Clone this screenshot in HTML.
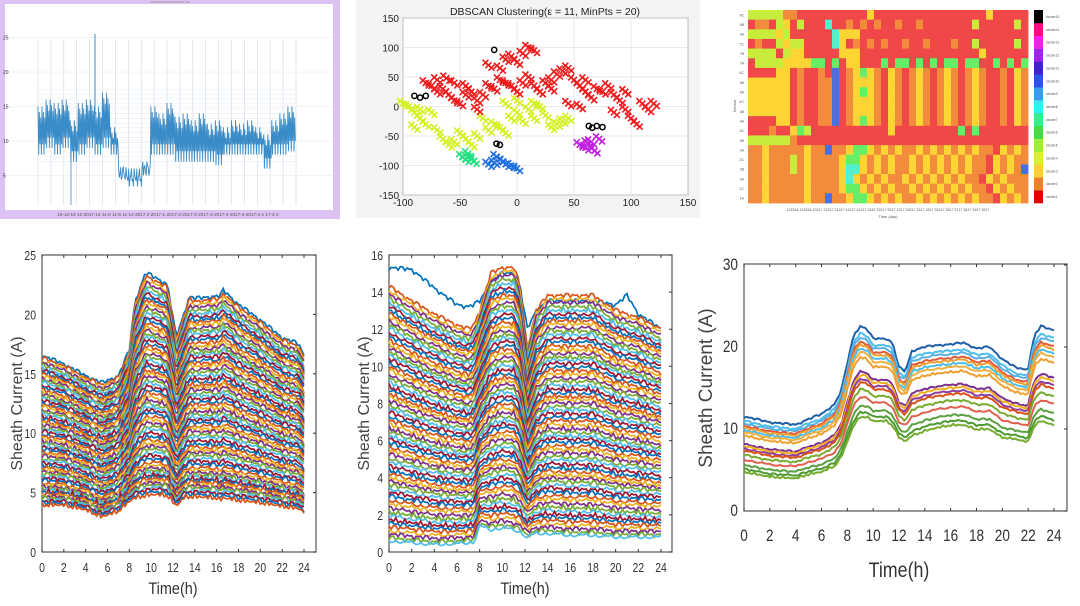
<!DOCTYPE html>
<html><head><meta charset="utf-8">
<style>
html,body{margin:0;padding:0;background:#fff;}
body{width:1080px;height:606px;overflow:hidden;font-family:"Liberation Sans",sans-serif;}
svg{position:absolute;left:0;top:0;}
</style></head>
<body>
<svg id="s" width="1080" height="606" viewBox="0 0 1080 606"></svg>
<script>
// ---------- DATA ----------
const palette=["#0072BD","#D95319","#EDB120","#7E2F8E","#77AC30","#4DBEEE","#A2142F"];
// Panel 1 (top-left): daily highs/lows of a multi-week series
const dayHigh=[15,16,15.5,16,13,15.5,16,15,17,12,6,5,5,7,15,14,15.5,13.5,14,13,14,12.5,13,12,13,12.5,13,12,11,13,14,15];
const dayLow=[8,9,8,9,7,8,9,8,9,8,4.7,4.5,4.5,5,8,8,8,7,7,7,7,7,6.5,8,8,8,8,8,6,8,8,8.5];
// Panel 2 (DBSCAN scatter)
const redPts=[[-75,35],[-70,45],[-65,30],[-60,20],[-55,10],[-50,5],[-62,48],[-55,40],[-45,35],[-40,25],[-35,10],[-30,20],[-25,35],[-20,30],[-15,45],[-10,40],[-5,35],[0,25],[5,40],[10,50],[15,35],[20,25],[25,40],[30,30],[35,55],[40,60],[45,65],[50,45],[55,35],[60,25],[65,15],[70,30],[75,25],[80,35],[85,20],[90,10],[95,-5],[100,-20],[105,-30],[110,5],[115,-5],[120,5],[-25,70],[-15,65],[-10,80],[-5,85],[0,75],[5,90],[10,100],[15,95],[45,5],[55,0],[85,-10],[-45,20],[-35,-5],[-70,25],[-80,40],[30,45],[60,45],[95,25]];
const yellowPts=[[-100,5],[-95,0],[-90,-10],[-85,-20],[-80,-30],[-90,-35],[-75,-10],[-70,-40],[-65,-55],[-55,-60],[-50,-45],[-45,-55],[-40,-65],[-35,-50],[-25,-40],[-20,-30],[-15,-35],[-10,-45],[-5,-20],[0,-10],[5,-25],[10,-5],[15,-20],[20,0],[25,-15],[30,-35],[35,-30],[40,-25],[45,-20],[-10,5],[0,10],[15,5],[-30,-20],[-60,-65],[-85,-5]];
const greenPts=[[-48,-85],[-45,-90],[-40,-88],[-43,-80],[-38,-93]];
const bluePts=[[-20,-95],[-15,-90],[-10,-98],[-5,-100],[0,-105],[-18,-85],[-25,-98],[-12,-93]];
const magentaPts=[[55,-65],[60,-70],[65,-60],[68,-75],[72,-55],[62,-62]];
const noisePts=[[-20,96],[-90,18],[-85,15],[-80,18],[-18,-63],[-15,-65],[63,-33],[66,-36],[70,-33],[75,-35]];
const scXTicks=[-100,-50,0,50,100,150];
const scYTicks=[150,100,50,0,-50,-100,-150];
// Panel 3 (heatmap): color codes per row, one char per column
const heatRows=[
"gggggoorrrrrrrrrryrrrrrrrrrrrrrrrryrrrrrr",
"roorgyrgrrrcrrorororrorrorrrrrrrgrrrrrgrr",
"ggggygrrrrrrcyyyrrrrrrrrrrrrrrrrrrrrrrrr",
"rorrgyggrrrrcyrorororrorrorrrorrgrrrrrgrr",
"ggggrgyyrrrrryyyrrrrrrrrrrrrrrrrryrrrrrrr",
"rggggyyyyGGrGryyrrrGrGGrGrGrGGrGGrrGrGrGr",
"rrrryyrorrorbroyGyoryoroyoroyoroyorroryob",
"yyyyyyrorroobroyyyoryoroyoroyoroyorroryoo",
"yyyyyyrorroobroyGyoryoroyoroyoroyorroryoo",
"yyyyyyrorroobroyyyoryoroyoroyoroyorroryob",
"yyyyyyrorroobroyyyoryoroyoroyoroyorroryob",
"rrrryyrorroobroyGyoryoroyoroyoroyorroryob",
"rrrorryGgrrrrrrrrrrryrrrrrrrrrGrGrrrrrrr",
"ggggggorrrrrrrrrrrrrrrrrrrrrrrrrrrrrrrrr",
"ooyoooooyoobooyGGyoyoyooyoyoyoyoyooryoyo",
"ooyooogoyooooyGGyoyoyooyoyoyoyoyooryoyoo",
"ooyooogoyooooyccyoyoyooyoyoyoyoyooryoyob",
"ooyoooooyooooycyoyoyooyoyoyoyoyooryoyooo",
"ooyoooooyooooyGGyoyoyooyoyoyoyoyooryoyoo",
"ooyoooooyoobooyGGyoyoyooyoyoyoyoyooryoyo"];
const heatRowLabels=["9C","9B","9A","7C","7B","7A","6C","5B","5A","4C","4B","4A","3C","3B","2A","2C","2B","2A","1C","1A"];
const heatColors={r:"#f04848",o:"#f28c3c",y:"#fcd434",g:"#c8ec3c",G:"#66ee66",c:"#50f0d0",b:"#4870e0"};
const cbarColors=["#e00000","#f08020","#fcd030","#d8f030","#a0f030","#40e040","#30f090","#30f0f0","#30a0f0","#3050f0","#4020d0","#a020f0","#f020f0","#f01080","#000000"];
// Panel 4 (sheath current, many cables)
const hA=[0,2,4,5.5,7,8,8.5,9.5,10.5,11.5,12.3,13,13.5,14,16,16.3,16.6,18,20,22,23.5,24];
const topA=[16.5,15.8,14.8,14.2,14.8,17,21,23.5,23,22.5,18,20,21.5,21.3,21.5,21.5,22,20.8,19.5,18,17.5,16.5];
const botA=[4,4,3.6,3,3.5,4.3,4.6,4.8,4.9,4.8,3.9,4.6,4.7,4.7,4.6,4.4,4.6,4.4,4.2,3.9,3.7,3.4];
const fracA=[1,0.985,0.97,0.955,0.94,0.925,0.91,0.895,0.88,0.865,0.85,0.835,0.82,0.805,0.79,0.775,0.76,0.745,0.73,0.715,0.7,0.685,0.67,0.655,0.64,0.625,0.61,0.595,0.58,0.565,0.55,0.535,0.52,0.505,0.49,0.475,0.46,0.445,0.43,0.415,0.4,0.385,0.37,0.355,0.34,0.325,0.31,0.295,0.28,0.265,0.25,0.235,0.22,0.205,0.19,0.175,0.16,0.145,0.13,0.12,0.11,0.1,0.09,0.08,0.07,0.06,0.05,0.04,0.03,0.02,0.01,0];
// Panel 5 (sheath current, second set)
const hB=[0,2,4,6,7,7.5,8,9,10,11,11.5,12.2,13,14,16,18,20,21,22,24];
const topB=[14.3,13.5,12.8,12.2,12,12.2,13,15,15.3,15.3,14.5,11,13,13.8,13.8,13.8,13,12.8,12.6,12];
const botB=[0.6,0.5,0.4,0.45,0.5,0.5,1.4,1.2,1.3,1.2,1.1,0.8,1,1,0.9,0.9,0.8,0.8,0.8,0.8];
const outB=[15.3,15.2,14.2,13.3,13.2,13.3,13.5,14.5,15,15,14.5,12,13,13.5,13.5,13.5,13.3,13.8,12.8,12];
const fracB=[1,0.985,0.97,0.955,0.94,0.925,0.91,0.895,0.88,0.865,0.85,0.835,0.82,0.805,0.79,0.775,0.76,0.745,0.73,0.715,0.7,0.685,0.67,0.655,0.64,0.625,0.61,0.595,0.58,0.565,0.55,0.535,0.52,0.505,0.49,0.475,0.46,0.445,0.43,0.415,0.4,0.385,0.37,0.355,0.34,0.325,0.31,0.295,0.28,0.265,0.25,0.235,0.22,0.205,0.19,0.175,0.16,0.145,0.13,0.115,0.1,0.085,0.07,0.055,0.04,0.025,0.01,0];
// Panel 6 (representative curves)
const hC=[0,2,4,5,6,7,7.5,8,8.5,9,9.5,10,11,11.5,12,12.5,13,14,15,16,17,18,19,20,21,21.8,22,22.5,23,24];
const topC=[11.5,10.8,10.5,11.2,11.8,13,14.5,18,21.5,22.5,22.2,21,21,20.5,17.5,17,19.5,20,20.2,20.3,20.5,19.8,20,18.5,17.5,17.2,17.5,21.5,22.5,22];
const botC=[4.8,4.2,4,4.5,4.8,5.5,6.5,8.5,10.5,11.5,11.5,11,11,10.5,9,8.5,9.2,9.8,10.2,10.5,10.5,10,10,9,8.8,8.5,8.5,10.5,11,10.5];
const fracC=[1,0.92,0.88,0.83,0.8,0.76,0.72,0.66,0.5,0.46,0.42,0.38,0.3,0.22,0.12,0.05,0];
const colC=["#1f5fa8","#4dbeee","#5ab0e0","#e05a3a","#f0a030","#4dbeee","#f0b040","#f0a030","#7e2f8e","#f0b020","#8e3fa0","#d95319","#77ac30","#e06050","#5aa040","#4d9a30","#77ac30"];
const hTicks=[0,2,4,6,8,10,12,14,16,18,20,22,24];
const ticksA=[0,5,10,15,20,25];
const ticksB=[0,2,4,6,8,10,12,14,16];
const ticksC=[0,10,20,30];

// ---------- HELPERS ----------
const S=document.getElementById('s');
const NS="http://www.w3.org/2000/svg";
function mk(tag,attrs,parent){const e=document.createElementNS(NS,tag);for(const k in attrs)e.setAttribute(k,attrs[k]);(parent||S).appendChild(e);return e;}
function txt(str,x,y,size,anchor,parent,extra){const t=mk('text',Object.assign({x:x,y:y,'font-size':size,'text-anchor':anchor||'middle',fill:'#333'},extra||{}),parent);t.textContent=str;return t;}
function interp(hs,vs,h){for(let i=0;i<hs.length-1;i++){if(h>=hs[i]&&h<=hs[i+1]){const t=(h-hs[i])/(hs[i+1]-hs[i]);return vs[i]+t*(vs[i+1]-vs[i]);}}return vs[vs.length-1];}

// ---------- PANEL 1 ----------
(function(){
 const g=mk('g',{});
 
 
 const bg=mk('rect',{x:0,y:0,width:340,height:219,fill:'#dcc2f2'},g);
 
 
 mk('rect',{x:5,y:4,width:328,height:206,fill:'#fff'},g);
 const X0=38,X1=296;
 const yS=v=>210-v*6.9;
 for(let i=0;i<=20;i++){mk('line',{x1:X0+i*(X1-X0)/20,y1:40,x2:X0+i*(X1-X0)/20,y2:205,stroke:'#cfd8e8','stroke-width':0.6},g);}
 for(let v=7;v<=18;v+=0.7){mk('line',{x1:X0,y1:yS(v),x2:X1,y2:yS(v),stroke:'#dbe3ee','stroke-width':0.4},g);}
 [5,10,15,20,25].forEach(v=>{mk('line',{x1:5,y1:yS(v),x2:333,y2:yS(v),stroke:'#e8e8e8','stroke-width':0.5},g);txt(String(v),3,yS(v)+2,5,'start',g);});
 const n=dayHigh.length,w=(X1-X0)/n;
 let d='';
 for(let i=0;i<n;i++){
  const x=X0+i*w;
  for(let k=0;k<6;k++){
   const hi=dayHigh[i]-(k%3)*0.8, lo=dayLow[i]+(k%2)*1.5;
   d+=(i==0&&k==0?'M':'L')+(x+k*w/6).toFixed(1)+','+yS(hi).toFixed(1)+'L'+(x+k*w/6+w/12).toFixed(1)+','+yS(lo).toFixed(1);
  }
 }
 const p=mk('path',{d:d,fill:'none',stroke:'#3a8cc8','stroke-width':0.9},g);
 
 
 mk('line',{x1:95,y1:yS(25.5),x2:95,y2:yS(14),stroke:'#3a8cc8','stroke-width':1},g);
 mk('line',{x1:71,y1:yS(8),x2:71,y2:205,stroke:'#3a8cc8','stroke-width':0.8},g);
 const tl=txt('xxxxxxxxxxxxxxxxx  xx',170,3,4,'middle',g,{fill:'#888'});
 
 
 const xl=txt('16-12-18 12-2017-12-11-8 11-5 11-12-2017 2-2017-1-2017-2-2017-2-2017-3-2017-4-2017-4-2017-4-1 17-4-2',168,216,4.6,'middle',g,{fill:'#555'});
 
 
})();

// ---------- PANEL 2 ----------
(function(){
 const g=mk('g',{});
 
 
 mk('rect',{x:356,y:0,width:344,height:218,fill:'#f4f4f4'},g);
 const L=403,R=688,T=18,B=195;
 const xs=x=>L+(x+100)/250*(R-L), ys=y=>T+(150-y)/300*(B-T);
 mk('rect',{x:L,y:T,width:R-L,height:B-T,fill:'#fff',stroke:'#444','stroke-width':0.8},g);
 scXTicks.forEach(v=>{mk('line',{x1:xs(v),y1:T,x2:xs(v),y2:B,stroke:'#e2e2e2','stroke-width':0.7},g);const t=txt(String(v),xs(v),206,10,'middle',g,{fill:'#222'});});
 scYTicks.forEach(v=>{mk('line',{x1:L,y1:ys(v),x2:R,y2:ys(v),stroke:'#e2e2e2','stroke-width':0.7},g);const t=txt(String(v),L-4,ys(v)+4,10,'end',g,{fill:'#222'});});
 const title=txt('DBSCAN Clustering(\u03b5 = 11, MinPts = 20)',545,15,10.5,'middle',g,{fill:'#222'});
 
 
 function cross(pts,col,name){
  pts.forEach(p=>{
   const x=xs(p[0]),y=ys(p[1]);
   for(let k=0;k<3;k++){
    const ox=(k-1)*3,oy=((k*7)%3-1)*2.5;
    const e=mk('path',{d:`M${x+ox-3},${y+oy-3}L${x+ox+3},${y+oy+3}M${x+ox-3},${y+oy+3}L${x+ox+3},${y+oy-3}`,stroke:col,'stroke-width':1.6,fill:'none'},g);
    
    
   }
  });
 }
 cross(yellowPts,'#d4f020','cluster-yellow-point');
 cross(redPts,'#ee1c1c','cluster-red-point');
 cross(greenPts,'#20e080','cluster-green-point');
 cross(bluePts,'#2070e0','cluster-blue-point');
 cross(magentaPts,'#c020e0','cluster-magenta-point');
 noisePts.forEach(p=>{const c=mk('circle',{cx:xs(p[0]),cy:ys(p[1]),r:2.6,fill:'none',stroke:'#000','stroke-width':1.5},g);});
})();

// ---------- PANEL 3 ----------
(function(){
 const g=mk('g',{});
 
 
 const L=748,R=1028,T=10,B=203,nr=heatRows.length,nc=40;
 const cw=(R-L)/nc,rh=(B-T)/nr;
 heatRows.forEach((row,ri)=>{
  for(let c=0;c<nc;c++){
   const ch=row[c]||'r';
   const cell=mk('rect',{x:(L+c*cw).toFixed(2),y:(T+ri*rh).toFixed(2),width:(cw+0.4).toFixed(2),height:(rh+0.4).toFixed(2),fill:heatColors[ch]},g);
   
   
  }
  const t=txt(heatRowLabels[ri],L-4,T+ri*rh+rh/2+1.5,3.5,'end',g,{fill:'#555'});
  
  
 });
 const nb=cbarColors.length,bh=(B-T)/nb;
 cbarColors.forEach((c,i)=>{
  const r=mk('rect',{x:1034,y:(B-(i+1)*bh).toFixed(2),width:9,height:(bh+0.3).toFixed(2),fill:c},g);
  
  
  txt('cluster'+(i+1),1046,B-i*bh-bh/2+1.5,3.3,'start',g,{fill:'#555'});
 });
 const xl=txt('121516  122816  20217  21517  31317  41217  41217  3187  32217  5217  2317  32617  3217  2817  32917  3617  3717  3817  3937  3917',888,211,3.6,'middle',g,{fill:'#555'});
 
 
 txt('Time (day)',888,218,4,'middle',g,{fill:'#555'});
 txt('Sensor',736,106,4,'middle',g,{fill:'#555',transform:'rotate(-90 736 106)'});
})();

// ---------- LINE PANELS ----------
function linePanel(cfg){
 const g=mk('g',{});
 
 
 const xs=h=>cfg.x0+h/24*(cfg.x24-cfg.x0), ys=v=>cfg.y0-(v/cfg.ymax)*(cfg.y0-cfg.yTop);
 mk('rect',{x:cfg.x0,y:cfg.boxTop,width:cfg.boxR-cfg.x0,height:cfg.y0-cfg.boxTop,fill:'#fff',stroke:'#555','stroke-width':1.2},g);
 cfg.lines.forEach((ln,i)=>{
  let d='';
  let k=0;
  for(let h=0;h<=24.001;h+=cfg.step){
   const v=ln(h);
   const wig=(((k*k*7+i*13+k*i)%11)-5)/5*cfg.wig;
   d+=(k==0?'M':'L')+xs(h).toFixed(1)+','+ys(v+wig).toFixed(1);
   k++;
  }
  const p=mk('path',{d:d,fill:'none',stroke:cfg.colors[i%cfg.colors.length],'stroke-width':cfg.sw},g);
  
  
 });
 hTicks.forEach(h=>{
  mk('line',{x1:xs(h),y1:cfg.y0,x2:xs(h),y2:cfg.y0-3,stroke:'#333'},g);
  mk('line',{x1:xs(h),y1:cfg.boxTop,x2:xs(h),y2:cfg.boxTop+3,stroke:'#333'},g);
  const t=txt(String(h),xs(h),cfg.y0+cfg.tickDy,cfg.fs,'middle',g,{fill:'#333',transform:`translate(${xs(h)},0) scale(0.8,1) translate(${-xs(h)},0)`});
  
  
 });
 cfg.yticks.forEach(v=>{
  mk('line',{x1:cfg.boxR,y1:ys(v),x2:cfg.boxR-3,y2:ys(v),stroke:'#333'},g);
  const t=txt(String(v),cfg.x0-6,ys(v)+5,cfg.fs,'end',g,{fill:'#333',transform:`translate(${cfg.x0-6},0) scale(0.8,1) translate(${-(cfg.x0-6)},0)`});
  
  
 });
 const xt=txt('Time(h)',(cfg.x0+cfg.x24)/2,cfg.y0+cfg.titleDy,cfg.fs+4,'middle',g,{fill:'#333',transform:`translate(${(cfg.x0+cfg.x24)/2},0) scale(0.85,1) translate(${-(cfg.x0+cfg.x24)/2},0)`});
 
 
 const yc=(cfg.y0+cfg.yTop)/2;
 const yt=txt('Sheath Current (A)',cfg.yTitleX,yc,cfg.yfs,'middle',g,{fill:'#444',transform:`rotate(-90 ${cfg.yTitleX} ${yc})`});
 
 
}
linePanel({name:'sheath-current-all-a',x0:42,x24:304,boxR:316,y0:552,yTop:255,boxTop:255,ymax:25,step:0.2,wig:0.18,sw:1.7,fs:13,yfs:16,tickDy:20,titleDy:42,yTitleX:22,yticks:ticksA,colors:palette,
 lines:fracA.map(f=>h=>interp(hA,botA,h)+f*(interp(hA,topA,h)-interp(hA,botA,h)))});
linePanel({name:'sheath-current-all-b',x0:389,x24:661,boxR:672,y0:552,yTop:255,boxTop:255,ymax:16,step:0.2,wig:0.12,sw:1.7,fs:13,yfs:16,tickDy:20,titleDy:42,yTitleX:369,yticks:ticksB,colors:palette,
 lines:[h=>interp(hB,outB,h)].concat(fracB.map(f=>h=>interp(hB,botB,h)+f*(interp(hB,topB,h)-interp(hB,botB,h))))});
linePanel({name:'sheath-current-representative',x0:744,x24:1054,boxR:1067,y0:511,yTop:265,boxTop:264,ymax:30,step:0.2,wig:0.12,sw:2,fs:17,yfs:19,tickDy:30,titleDy:66,yTitleX:712,yticks:ticksC,colors:colC,
 lines:fracC.map(f=>h=>interp(hC,botC,h)+f*(interp(hC,topC,h)-interp(hC,botC,h)))});
</script>
</body></html>
